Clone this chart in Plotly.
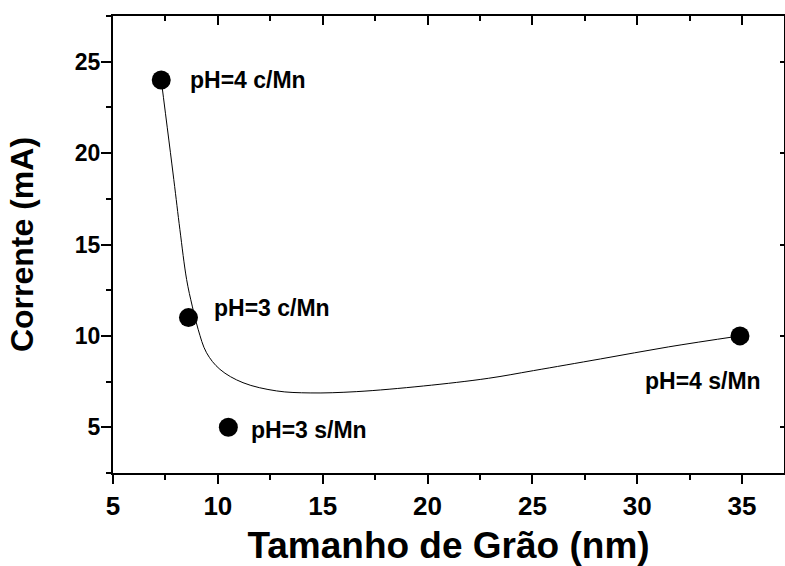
import plotly.graph_objects as go

# Measured points
grain_size = [7.3, 8.6, 10.5, 34.9]
current = [24.0, 11.0, 5.0, 10.0]
labels = ["pH=4 c/Mn", "pH=3 c/Mn", "pH=3 s/Mn", "pH=4 s/Mn"]
label_x = [8.57, 9.71, 11.48, 33.15]
label_y = [24.0, 11.5, 4.85, 7.55]
label_anchor = ["left", "left", "left", "center"]

# Fitted curve
fit_x = [7.30, 7.90, 8.19, 8.51, 8.78, 9.06, 9.46, 10.1, 11.2, 12.8,
         14.4, 16.6, 19.8, 22.9, 25.05, 28.25, 31.5, 34.9]
fit_y = [24.0, 18.55, 15.82, 13.09, 11.63, 10.36, 9.08, 8.17, 7.44, 6.99,
         6.88, 6.95, 7.26, 7.68, 8.1, 8.74, 9.4, 10.0]

x_range = [5, 37]
y_range = [2.5, 27.5]

FONT = "Arial, 'Liberation Sans', sans-serif"

fig = go.Figure()
fig.add_trace(go.Scatter(x=fit_x, y=fit_y, mode="lines",
                         line=dict(color="black", width=1, shape="spline", smoothing=1.0),
                         hoverinfo="skip", showlegend=False))
fig.add_trace(go.Scatter(x=grain_size, y=current, mode="markers",
                         marker=dict(color="black", size=19),
                         showlegend=False))
# invisible trace for mirrored axes
fig.add_trace(go.Scatter(x=grain_size, y=current, mode="markers", xaxis="x2", yaxis="y2",
                         marker=dict(opacity=0), hoverinfo="skip", showlegend=False))

for t, x, y, a in zip(labels, label_x, label_y, label_anchor):
    fig.add_annotation(x=x, y=y, text=t, showarrow=False, xanchor=a, yanchor="middle",
                       font=dict(family=FONT, size=23, color="black", weight="bold"))

fig.update_layout(
    width=785, height=566,
    margin=dict(l=113, r=1, t=16, b=93),
    paper_bgcolor="white", plot_bgcolor="white",
    font=dict(family=FONT, color="black"),
    xaxis=dict(range=x_range, tick0=5, dtick=5, ticks="outside", ticklen=9, tickwidth=2,
               tickcolor="black",
               showline=True, linewidth=2, linecolor="black", showgrid=False, zeroline=False,
               tickfont=dict(family=FONT, size=26, color="black", weight="bold"),
               minor=dict(dtick=2.5, ticks="outside", ticklen=5, tickwidth=2, tickcolor="black", showgrid=False),
               title=dict(text="Tamanho de Grão (nm)", standoff=12,
                          font=dict(family=FONT, size=37, color="black", weight="bold"))),
    yaxis=dict(range=y_range, tick0=0, dtick=5, ticks="outside", ticklen=10, tickwidth=2,
               tickcolor="black", ticklabelstandoff=-4,
               showline=True, linewidth=2, linecolor="black", showgrid=False, zeroline=False,
               tickfont=dict(family=FONT, size=23, color="black", weight="bold"),
               minor=dict(dtick=2.5, ticks="outside", ticklen=5, tickwidth=2, tickcolor="black", showgrid=False),
               title=dict(text="Corrente (mA)", standoff=32,
                          font=dict(family=FONT, size=32, color="black", weight="bold"))),
    xaxis2=dict(range=x_range, overlaying="x", side="top", anchor="y2", tick0=5, dtick=5,
                ticks="inside", ticklen=9, tickwidth=2, tickcolor="black", showticklabels=False,
                showline=True, linewidth=2, linecolor="black", showgrid=False, zeroline=False,
                minor=dict(dtick=2.5, ticks="inside", ticklen=5, tickwidth=2, tickcolor="black", showgrid=False)),
    yaxis2=dict(range=y_range, overlaying="y", side="right", anchor="x2", tick0=0, dtick=5,
                ticks="inside", ticklen=4, tickwidth=2, tickcolor="black", showticklabels=False,
                showline=True, linewidth=2, linecolor="black", showgrid=False, zeroline=False),
)

fig.write_html("out.html")
